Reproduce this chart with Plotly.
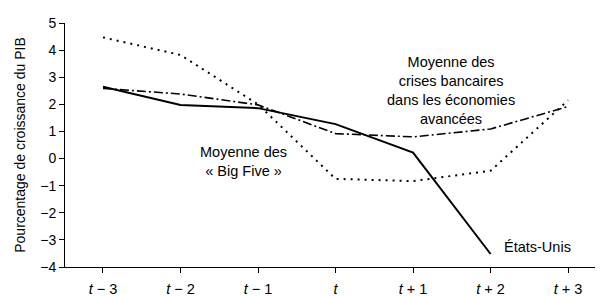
import plotly.graph_objects as go

x_pos = [-3, -2, -1, 0, 1, 2, 3]
tick_labels = ["<i>t</i> − 3", "<i>t</i> − 2", "<i>t</i> − 1", "<i>t</i>",
               "<i>t</i> + 1", "<i>t</i> + 2", "<i>t</i> + 3"]
y_ticks = [-4, -3, -2, -1, 0, 1, 2, 3, 4, 5]

etats_unis = [2.65, 1.98, 1.86, 1.27, 0.22, -3.52]
big_five = [4.47, 3.82, 2.0, -0.75, -0.83, -0.45, 2.15]
crises_bancaires = [2.59, 2.38, 1.98, 0.92, 0.8, 1.09, 1.92]

fig = go.Figure()
fig.add_trace(go.Scatter(x=x_pos, y=big_five, mode="lines",
                         line=dict(color="black", width=2, dash="2px,5px"),
                         showlegend=False))
fig.add_trace(go.Scatter(x=x_pos, y=crises_bancaires, mode="lines",
                         line=dict(color="black", width=1.6, dash="9px,3px,2px,3px"),
                         showlegend=False))
fig.add_trace(go.Scatter(x=x_pos[:6], y=etats_unis, mode="lines",
                         line=dict(color="black", width=2),
                         showlegend=False))

font_main = "Liberation Sans, Arial, sans-serif"
fig.add_annotation(x=1.49, y=2.5, xref="x", yref="y",
                   text="Moyenne des<br>crises bancaires<br>dans les économies<br>avancées",
                   showarrow=False, font=dict(size=14.5, color="black", family=font_main),
                   align="center")
fig.add_annotation(x=-1.19, y=-0.09, xref="x", yref="y",
                   text="Moyenne des<br>« Big Five »",
                   showarrow=False, font=dict(size=14.5, color="black", family=font_main),
                   align="center")
fig.add_annotation(x=2.61, y=-3.26, xref="x", yref="y",
                   text="États-Unis",
                   showarrow=False, font=dict(size=14.5, color="black", family=font_main),
                   align="center")

# page body has an 8px margin, so the plot area is offset accordingly
fig.update_layout(
    width=603, height=296,
    margin=dict(l=57, r=8, t=7, b=36),
    paper_bgcolor="white", plot_bgcolor="white",
    font=dict(family=font_main, size=14, color="black"),
)
fig.update_xaxes(range=[-3.49, 3.45], tickmode="array", tickvals=x_pos,
                 ticktext=tick_labels, showgrid=False, zeroline=False,
                 showline=True, linecolor="black", linewidth=1,
                 ticks="outside", ticklen=5, tickcolor="black",
                 ticklabelstandoff=4, tickfont=dict(size=14.5),
                 ticklabeloverflow="allow")
fig.update_yaxes(range=[-4, 5], tickmode="array", tickvals=y_ticks,
                 showgrid=False, zeroline=False, showline=True, linecolor="black",
                 linewidth=1, ticks="outside", ticklen=5, tickcolor="black",
                 tickfont=dict(size=14), ticklabeloverflow="allow",
                 title=dict(text="Pourcentage de croissance du PIB", standoff=11,
                            font=dict(size=14)))

fig.write_html("out.html")
